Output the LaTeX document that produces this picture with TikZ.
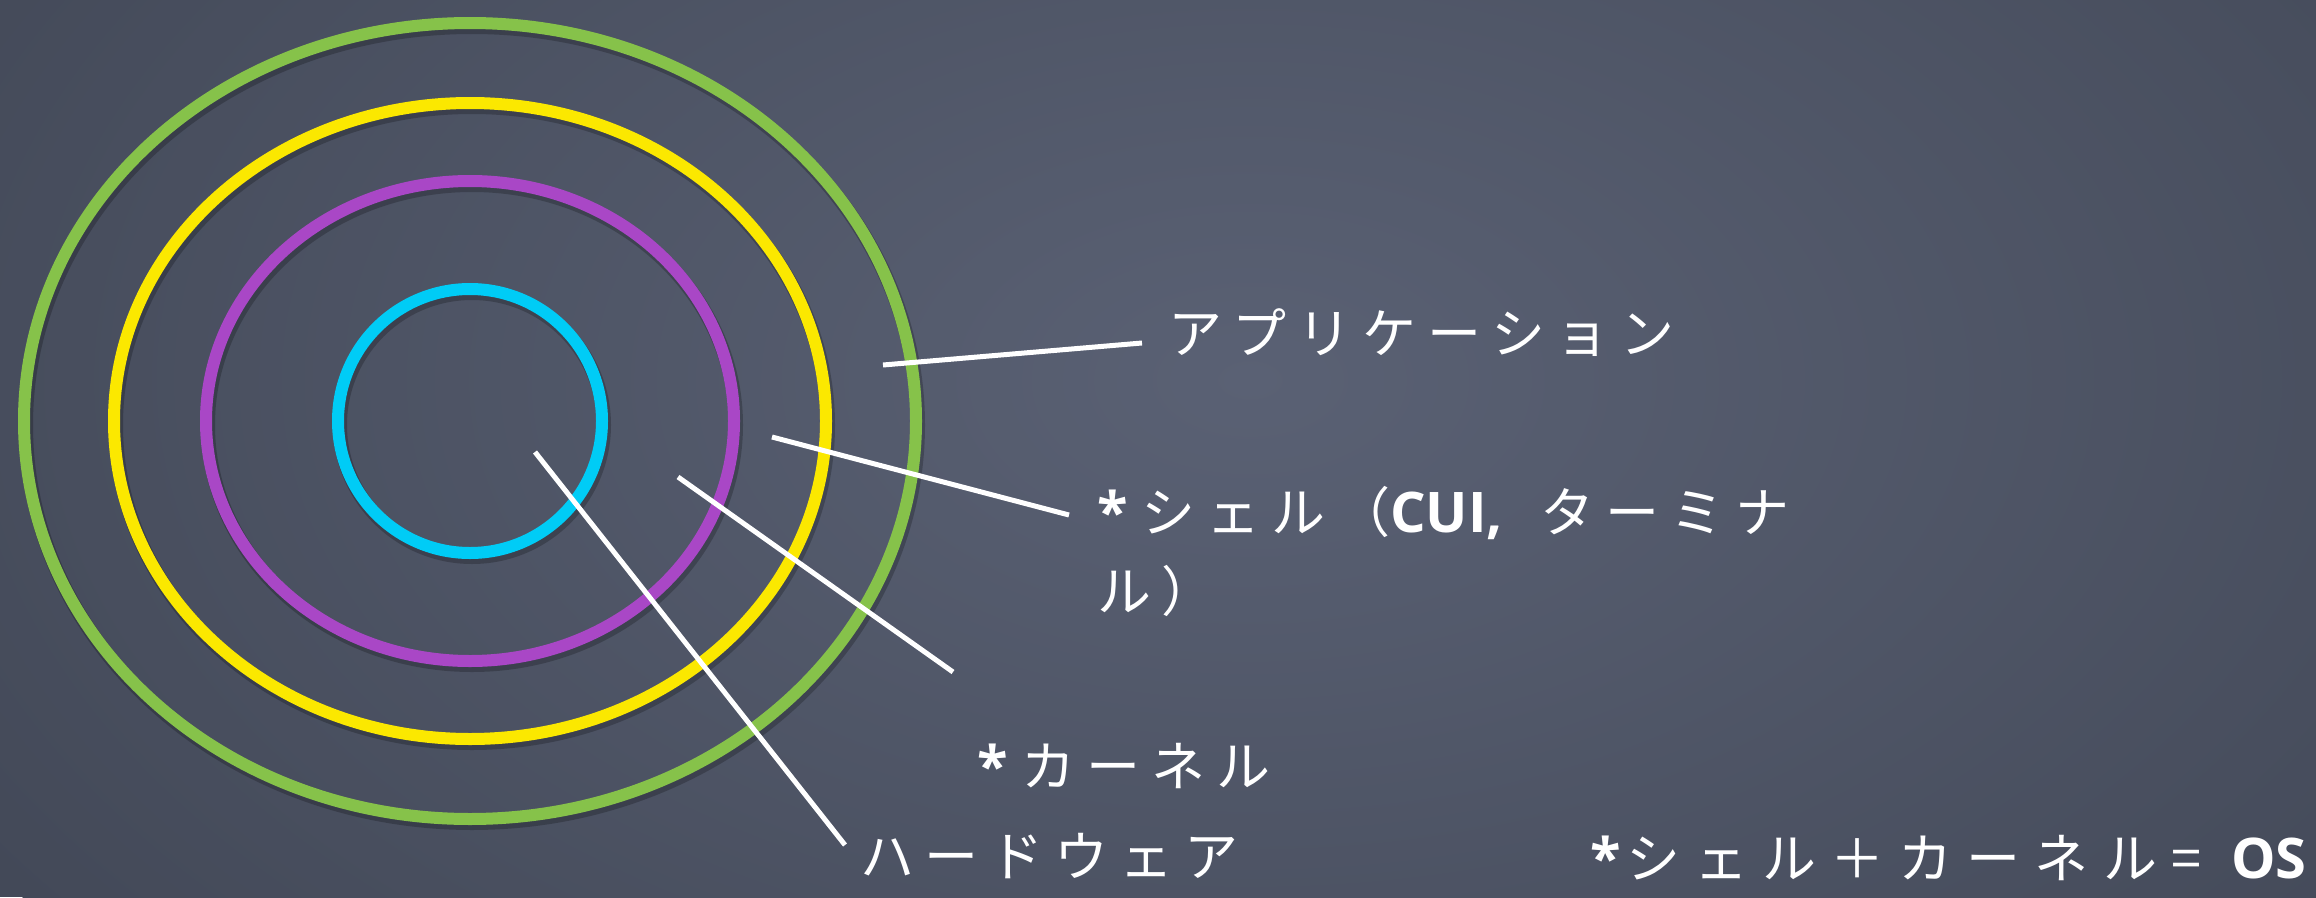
\documentclass[tikz,border=0pt]{standalone}
\usepackage{fontspec}
\newfontfamily\jp[LetterSpace=20]{Noto Sans CJK JP}
\newfontfamily\jpw[LetterSpace=26]{Noto Sans CJK JP}
\newfontfamily\lat{Open Sans}
\definecolor{bgd}{HTML}{434958}
\definecolor{bgl}{HTML}{5A6174}
\definecolor{cgreen}{HTML}{86C24A}
\definecolor{cyellow}{HTML}{FBE800}
\definecolor{cpurple}{HTML}{A947C6}
\definecolor{ccyan}{HTML}{00CCF6}
\tikzset{
  ring/.style={line width=12pt},
  ringshadow/.style={line width=14pt, black, opacity=0.22},
  leader/.style={draw=white, line width=5pt},
  lbl/.style={text=white, inner sep=0pt, anchor=base west, align=left,
    font=\jp\fontsize{54}{79}\selectfont},
}
\newcommand{\bl}[1]{{\lat\bfseries\fontsize{56}{79}\selectfont #1}}
\newcommand{\myast}{\bl{*}\hspace{14pt}}
\begin{document}
\begin{tikzpicture}[x=1pt,y=-1pt]
\useasboundingbox (0,0) rectangle (2316,897);
\begin{scope}
  \clip (0,0) rectangle (2316,897);
  \fill[bgd] (0,0) rectangle (2316,897);
  \shade[inner color=bgl, outer color=bgd] (1250,380) ellipse [x radius=1500pt, y radius=900pt];
\end{scope}
% center
\coordinate (c) at (470,421);
% shadows
\draw[ringshadow] ([shift={(2,4)}]c) ellipse [x radius=446pt, y radius=398pt];
\draw[ringshadow] ([shift={(2,4)}]c) ellipse [x radius=356pt, y radius=318pt];
\draw[ringshadow] ([shift={(2,4)}]c) ellipse [x radius=264pt, y radius=240pt];
\draw[ringshadow] ([shift={(2,4)}]c) circle [radius=132pt];
% rings
\draw[ring, cgreen] (c) ellipse [x radius=446pt, y radius=398pt];
\draw[ring, cyellow] (c) ellipse [x radius=356pt, y radius=318pt];
\draw[ring, cpurple] (c) ellipse [x radius=264pt, y radius=240pt];
\draw[ring, ccyan] (c) circle [radius=132pt];
% labels
\node[lbl] (app) at (1168,353) {アプリケーション};
\node[lbl] (shell) at (1097,611) {\myast シェル（\bl{CUI,}\hspace{38pt}ターミナ\\ル）};
\node[lbl] (kernel) at (977,786) {\myast カーネル};
\node[lbl] (hw) at (860,876) {ハードウェア};
\node[lbl, font=\jpw\fontsize{54}{79}\selectfont] (os) at (1590,878) {\bl{*}\hspace{6pt}シェル＋カーネル=\hspace{30pt}\bl{OS}};
% leader lines
\coordinate (a0) at (883,365);  \coordinate (a1) at (1142,343);
\coordinate (s0) at (772,437);  \coordinate (s1) at (1069,515);
\coordinate (k0) at (678,477);  \coordinate (k1) at (953,672);
\coordinate (h0) at (535,452);  \coordinate (h1) at (845,845);
\draw[leader] (a0) -- (a1);
\draw[leader] (s0) -- (s1);
\draw[leader] (k0) -- (k1);
\draw[leader] (h0) -- (h1);
\end{tikzpicture}
\end{document}
